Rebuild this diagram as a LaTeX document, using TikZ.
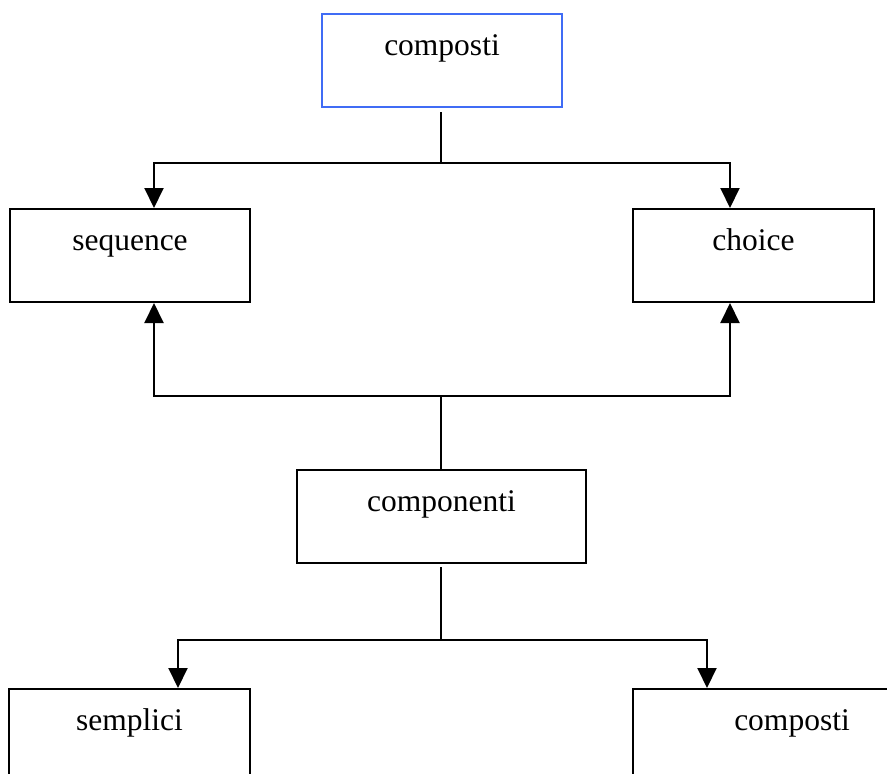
\documentclass[tikz,border=0pt]{standalone}
\usepackage{fontspec}
\setmainfont{Liberation Serif}
\usetikzlibrary{arrows.meta}
\definecolor{boxblue}{RGB}{64,108,245}
\begin{document}
\begin{tikzpicture}[x=1pt,y=-1pt,
  box/.style={draw, line width=2pt, inner sep=0pt, anchor=north,
    minimum width=#1, text height=41pt, text depth=52pt,
    font=\fontsize{31.5}{36}\selectfont},
  conn/.style={line width=2pt},
  arr/.style={conn, -{Triangle[length=20pt,width=19pt]}}]
\useasboundingbox (0,0) rectangle (887,774);
\clip (0,0) rectangle (887,774);
\fill[white] (0,0) rectangle (887,774);

\node[box=240, draw=boxblue] (top) at (442,13) {composti};
\node[box=240] (seq) at (130,208) {sequence};
\node[box=241] (cho) at (753.5,208) {choice};
\node[box=289] (cmp) at (441.5,469) {componenti};
\node[box=241] (semp) at (129.5,688) {semplici};
\node[box=318] (comp2) at (792,688) {composti};

\coordinate (j1) at (441,163);
\coordinate (j1l) at (154,163);
\coordinate (j1r) at (730,163);
\coordinate (j2) at (441,396);
\coordinate (j2l) at (154,396);
\coordinate (j2r) at (730,396);
\coordinate (j3) at (441,640);
\coordinate (j3l) at (178,640);
\coordinate (j3r) at (707,640);

\draw[conn] ([yshift=-4pt]j1 |- top.south) -- (j1);
\draw[arr] (j1) -| (j1l |- seq.north);
\draw[arr] (j1) -| (j1r |- cho.north);

\draw[arr] (j2) -| (j2l |- seq.south);
\draw[arr] (j2) -| (j2r |- cho.south);
\draw[conn] (j2) -- (j2 |- cmp.north);

\draw[conn] ([yshift=-3pt]j3 |- cmp.south) -- (j3);
\draw[arr] (j3) -| (j3l |- semp.north);
\draw[arr] (j3) -| (j3r |- comp2.north);
\end{tikzpicture}
\end{document}
